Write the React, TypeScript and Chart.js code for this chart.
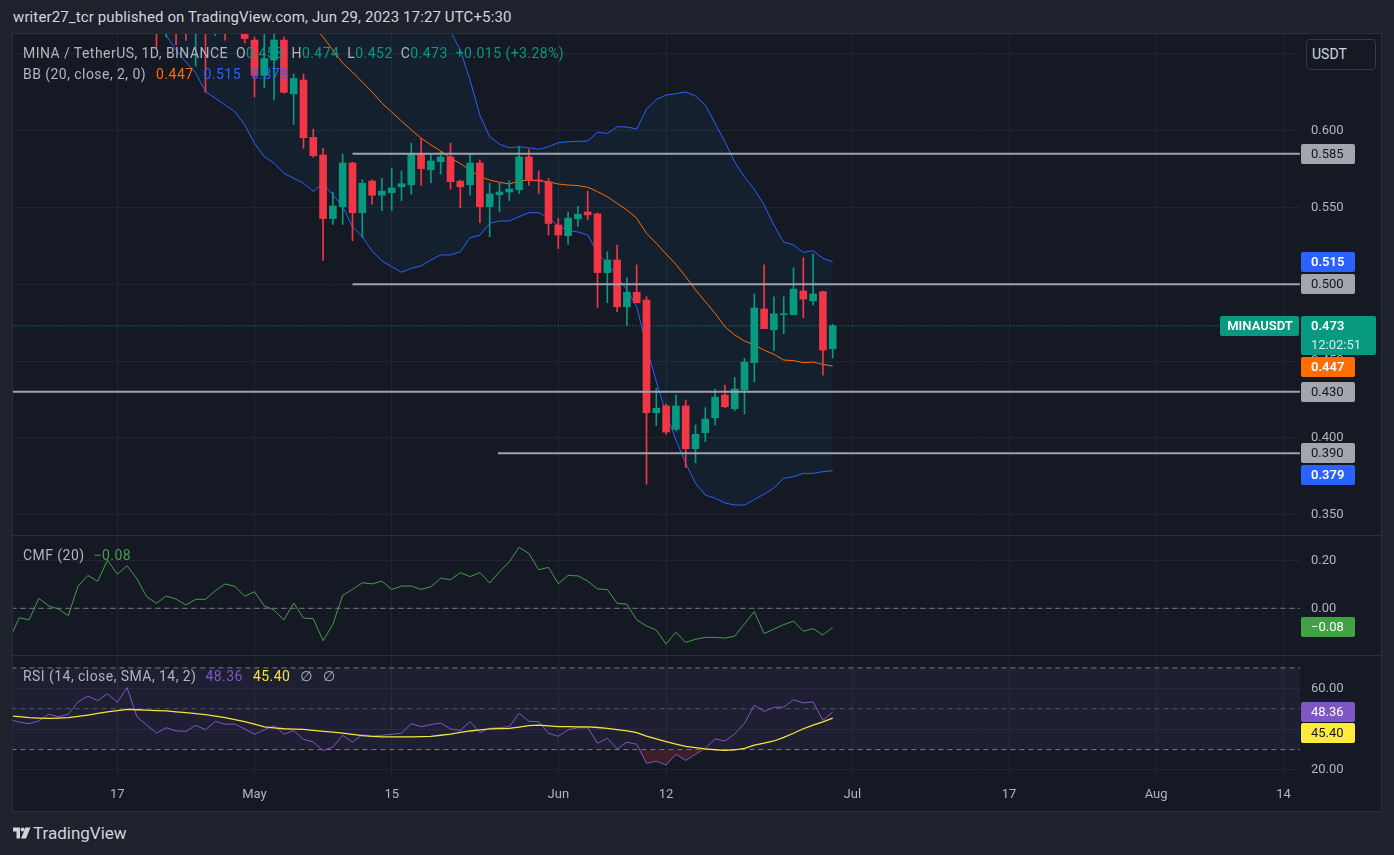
import React, { useEffect, useRef } from 'react';
import { Chart, registerables } from 'chart.js';

Chart.register(...registerables);

// ---------- DATA (day offsets are counted from Jun 1, 2023) ----------
const FIRST_CANDLE_DAY = -41; // Apr 21
const opens = [0.700,0.668,0.685,0.672,0.664,0.672,0.664,0.672,0.668,0.663,
  0.659,0.636,0.646,0.659,0.624,0.633,0.5957,0.5842,0.5428,0.5505,
  0.579,0.5466,0.5672,0.558,0.5596,0.5635,0.5648,0.5848,0.5746,0.5798,
  0.5829,0.5672,0.5648,0.579,0.5505,0.5583,0.5601,0.5616,0.5829,0.5679,
  0.5666,0.5386,0.5316,0.5427,0.5471,0.5458,0.5076,0.5158,0.4854,0.4948,
  0.4898,0.4164,0.4208,0.4056,0.4208,0.393,0.4034,0.4131,0.4279,0.419,
  0.4312,0.449,0.4839,0.4704,0.4802,0.4802,0.4956,0.4893,0.4952,0.458];
const highs = [0.712,0.690,0.692,0.680,0.682,0.680,0.674,0.680,0.678,0.672,
  0.661,0.663,0.664,0.661,0.637,0.637,0.601,0.5885,0.560,0.5848,
  0.5795,0.568,0.568,0.569,0.5755,0.5738,0.5918,0.595,0.5853,0.5863,
  0.5918,0.5679,0.5848,0.581,0.5658,0.5658,0.5673,0.5896,0.5879,0.5738,
  0.5689,0.543,0.5471,0.5508,0.5607,0.5464,0.5212,0.5256,0.5043,0.5126,
  0.4919,0.4323,0.422,0.4279,0.4247,0.4084,0.4197,0.4318,0.4344,0.4394,
  0.4518,0.4937,0.5126,0.4919,0.4919,0.5108,0.5173,0.5197,0.4956,0.474];
const lows = [0.654,0.661,0.656,0.659,0.642,0.625,0.662,0.659,0.664,0.657,
  0.622,0.628,0.620,0.6245,0.604,0.5885,0.5827,0.5156,0.539,0.539,
  0.5284,0.5306,0.552,0.548,0.548,0.5544,0.5586,0.5645,0.5661,0.5718,
  0.562,0.5499,0.5581,0.5401,0.531,0.5473,0.5544,0.559,0.5645,0.559,
  0.5321,0.5233,0.5259,0.5378,0.5419,0.485,0.488,0.4822,0.4731,0.488,
  0.3698,0.408,0.4023,0.4045,0.3806,0.3838,0.3975,0.4084,0.4197,0.4177,
  0.4156,0.4364,0.4711,0.4568,0.4678,0.4802,0.4783,0.4865,0.4409,0.452];
const closes = [0.672,0.685,0.668,0.665,0.670,0.664,0.668,0.665,0.666,0.660,
  0.636,0.647,0.659,0.625,0.634,0.5954,0.5837,0.5428,0.551,0.579,
  0.5466,0.5658,0.558,0.5607,0.5627,0.5655,0.5848,0.5753,0.5803,0.5829,
  0.5668,0.5635,0.579,0.5505,0.5588,0.5601,0.562,0.5829,0.5677,0.5673,
  0.5396,0.5321,0.543,0.5456,0.5452,0.5076,0.5158,0.4854,0.4948,0.488,
  0.4164,0.4193,0.4038,0.4208,0.393,0.4023,0.4123,0.4266,0.4203,0.4318,
  0.4494,0.4846,0.4711,0.4807,0.4807,0.4969,0.4904,0.4937,0.4572,0.473];

const bbUpper = [0.93,0.925,0.92,0.915,0.905,0.90,0.89,0.885,0.875,0.865,
  0.855,0.84,0.83,0.82,0.81,0.80,0.79,0.78,0.77,0.755,
  0.745,0.735,0.73,0.72,0.71,0.705,0.70,0.695,0.69,0.68,
  0.665,0.6525,0.633,0.610,0.5961,0.5913,0.5889,0.5896,0.5889,0.5879,
  0.5896,0.5922,0.5928,0.5931,0.5933,0.599,0.5983,0.6026,0.6024,0.6011,
  0.6141,0.6204,0.6232,0.6241,0.6252,0.6226,0.6167,0.6048,0.5928,0.5796,
  0.5699,0.562,0.5516,0.5386,0.5275,0.5256,0.5208,0.5219,0.5169,0.5147];
const bbBasis = [0.80,0.79,0.78,0.775,0.765,0.76,0.75,0.74,0.73,0.72,
  0.71,0.70,0.695,0.688,0.68,0.675,0.668,0.661,0.6525,0.644,
  0.6382,0.6317,0.6252,0.618,0.6121,0.6063,0.6005,0.5952,0.5907,0.5868,
  0.5822,0.5786,0.5744,0.5701,0.5679,0.5664,0.5653,0.5673,0.5679,0.5674,
  0.5668,0.5653,0.5646,0.5643,0.5632,0.5603,0.557,0.5527,0.5484,0.543,
  0.5332,0.5267,0.5197,0.513,0.505,0.4963,0.4887,0.4811,0.4724,0.467,
  0.4631,0.4605,0.4572,0.4544,0.4507,0.4503,0.449,0.4494,0.4478,0.4468];
const bbLower = [0.675,0.662,0.6525,0.6447,0.6376,0.6254,0.6211,0.6167,0.6124,0.6037,
  0.5918,0.5831,0.5788,0.5723,0.569,0.5658,0.5605,0.5656,0.5581,0.5505,
  0.5375,0.531,0.5217,0.5152,0.5115,0.5078,0.5104,0.5119,0.5158,0.5191,
  0.5191,0.5212,0.5303,0.5319,0.5397,0.5412,0.5412,0.544,0.5466,0.5466,
  0.5432,0.538,0.535,0.534,0.5321,0.5202,0.5137,0.505,0.4963,0.4854,
  0.4594,0.4366,0.416,0.3986,0.3835,0.3704,0.3628,0.3607,0.3576,0.3563,
  0.3563,0.3598,0.3634,0.3672,0.3737,0.3747,0.3769,0.3769,0.378,0.3786];

const FIRST_OSC_DAY = -56;
const cmfValues = [-0.13,-0.040,-0.049,0.042,0.010,-0.003,-0.031,0.094,0.139,0.114,
  0.204,0.144,0.180,0.125,0.049,0.021,0.052,0.039,0.014,0.038,
  0.038,0.074,0.103,0.093,0.051,0.070,0.010,-0.008,-0.049,0.022,
  -0.041,-0.044,-0.137,-0.068,0.055,0.080,0.108,0.103,0.115,0.080,
  0.094,0.094,0.080,0.091,0.127,0.121,0.151,0.134,0.151,0.107,
  0.155,0.196,0.258,0.232,0.163,0.173,0.104,0.139,0.137,0.115,
  0.082,0.079,0.021,0.017,-0.049,-0.075,-0.092,-0.151,-0.101,-0.144,
  -0.131,-0.123,-0.123,-0.126,-0.118,-0.066,-0.014,-0.107,-0.088,-0.069,
  -0.054,-0.097,-0.086,-0.113,-0.080];
const rsiValues = [44.8,43.4,42.7,44.0,47.3,46.0,47.3,53.3,56.2,53.9,
  57.4,53.1,60.3,46.1,42.0,38.1,40.7,39.1,38.9,41.9,
  39.7,43.8,42.4,42.5,40.1,37.5,39.6,41.7,37.6,39.3,
  35.0,33.7,29.5,31.3,37.0,33.6,37.3,36.5,37.0,37.5,
  38.0,42.7,41.2,42.2,43.0,40.1,39.4,43.7,38.3,40.4,
  40.7,41.2,47.8,43.8,43.7,38.0,36.5,39.7,40.7,40.7,
  33.1,35.5,30.4,33.6,32.6,23.3,24.3,22.4,27.7,24.7,
  27.7,30.6,35.2,34.2,37.6,42.9,51.7,48.7,50.7,50.8,
  54.4,52.8,53.4,44.3,48.36];
const rsiMaValues = [46.5,46.1,45.6,45.4,45.3,45.4,45.6,46.2,46.9,47.7,
  48.5,49.1,49.7,49.5,49.3,49.1,48.9,48.5,48.1,47.6,
  47.1,46.4,45.6,44.7,43.7,42.4,41.1,40.6,40.2,40.0,
  39.9,39.4,38.9,38.5,38.0,37.4,36.8,36.5,36.2,36.2,
  36.2,36.2,36.3,36.5,37.0,37.6,38.4,39.1,39.6,40.1,
  40.3,40.4,41.0,41.7,42.0,41.6,41.2,41.2,41.1,41.1,
  40.8,40.4,39.8,39.1,38.3,36.6,35.2,33.9,32.7,31.6,
  30.9,30.3,29.9,29.6,29.9,30.6,32.2,33.2,34.2,36.0,
  38.0,40.2,42.0,43.6,45.4];

const levelValues = [0.585, 0.5, 0.43, 0.39];
const levelStartDays = [-21, -21, -57, -6.15];
const rsiBandValues = [70, 50, 30];

const timeTickDays = [-45, -31, -17, 0, 11, 30, 46, 61, 74];
const timeTickLabels = ['17', 'May', '15', 'Jun', '12', 'Jul', '17', 'Aug', '14'];
const priceTicks = [0.35, 0.4, 0.45, 0.5, 0.55, 0.6, 0.65];
const cmfTicks = [0, 0.2];
const rsiTicks = [20, 40, 60];

// ---------- VIEW ----------
const X_MIN = -55.64;
const X_MAX = 75.68;
const P_MIN = 0.33678, P_MAX = 0.66296;
const CMF_MIN = -0.1975, CMF_MAX = 0.3057;
const RSI_MIN = 16.08, RSI_MAX = 75.81;

const FONT = 'Roboto, "Noto Sans", "DejaVu Sans", sans-serif';
const TEXT = '#B2B5BE';
const GRID = '#212530';
const BG = '#151924';
const OUTER = '#1E222D';
const UP = '#089981';
const DOWN = '#F23645';
const ORANGE = '#FF6D00';
const BLUE = '#2962FF';
const LEVEL = '#A0A3AB';
const CMF_COL = '#43A047';
const RSI_COL = '#7E57C2';
const MA_COL = '#F5E33B';

type AxisBox = { value: number; text: string; bg: string; fg: string; bold?: boolean; sub?: string; tag?: string };

function axisBoxPlugin(id: string, boxes: AxisBox[], gap: number) {
  return {
    id,
    afterDraw(chart: any) {
      const ctx = chart.ctx as CanvasRenderingContext2D;
      const area = chart.chartArea;
      const ys = chart.scales.y;
      const items = boxes.map((b) => ({ ...b, py: ys.getPixelForValue(b.value) })).sort((a, b) => a.py - b.py);
      let prevBottom = -1e9;
      ctx.save();
      for (const b of items) {
        const h = b.sub ? 39 : 20;
        let top = Math.round(b.py - 10);
        if (top < prevBottom + gap) top = prevBottom + gap;
        const left = area.right + 1;
        const w = b.sub ? 75 : 54;
        ctx.fillStyle = b.bg;
        ctx.beginPath();
        (ctx as any).roundRect(left, top, w, h, 2);
        ctx.fill();
        ctx.fillStyle = b.fg;
        ctx.textBaseline = 'middle';
        ctx.textAlign = 'left';
        ctx.font = `${b.bold ? '600 ' : ''}13px ${FONT}`;
        ctx.fillText(b.text, left + 10, top + 10.5);
        if (b.sub) {
          ctx.font = `13px ${FONT}`;
          ctx.fillStyle = 'rgba(255,255,255,0.82)';
          ctx.fillText(b.sub, left + 10, top + 29.5);
        }
        if (b.tag) {
          const tw = 80;
          ctx.fillStyle = b.bg;
          ctx.beginPath();
          (ctx as any).roundRect(area.right - tw, top, tw - 1, 20, 2);
          ctx.fill();
          ctx.fillStyle = '#FFFFFF';
          ctx.textAlign = 'center';
          ctx.font = `600 13px ${FONT}`;
          ctx.fillText(b.tag, area.right - tw / 2, top + 10.5);
        }
        prevBottom = top + h;
      }
      ctx.restore();
    },
  };
}

function timeScale(showLabels: boolean) {
  return {
    type: 'linear',
    min: X_MIN,
    max: X_MAX,
    offset: false,
    afterBuildTicks: (s: any) => {
      s.ticks = timeTickDays.map((v) => ({ value: v }));
    },
    ticks: {
      display: showLabels,
      autoSkip: false,
      maxRotation: 0,
      color: TEXT,
      font: { family: FONT, size: 13 },
      padding: 9,
      callback: (_v: any, i: number) => timeTickLabels[i],
    },
    grid: { color: GRID, drawTicks: false, offset: false },
    border: { display: false },
    afterFit: (s: any) => {
      s.height = showLabels ? 32 : 0;
      s.paddingLeft = 0;
      s.paddingRight = 0;
    },
  };
}

function valueScale(min: number, max: number, ticks: number[], digits: number) {
  return {
    position: 'right',
    min,
    max,
    afterBuildTicks: (s: any) => {
      s.ticks = ticks.map((v) => ({ value: v }));
    },
    ticks: {
      color: TEXT,
      font: { family: FONT, size: 13 },
      padding: 11,
      callback: (v: any) => Number(v).toFixed(digits).replace('-', '\u2212'),
    },
    grid: { color: GRID, drawTicks: false },
    border: { display: false },
    afterFit: (s: any) => {
      s.width = 81;
      s.paddingTop = 0;
      s.paddingBottom = 0;
    },
  };
}

const baseOptions = {
  responsive: false,
  animation: false as const,
  devicePixelRatio: 1,
  events: [] as any[],
  layout: { padding: 0 },
  plugins: { legend: { display: false }, tooltip: { enabled: false } },
};

function hLine(y: number, x0: number, x1: number, color: string, width: number, dash: number[], order: number, extra: any = {}) {
  return {
    type: 'line',
    data: [{ x: x0, y }, { x: x1, y }],
    borderColor: color,
    borderWidth: width,
    borderDash: dash,
    pointRadius: 0,
    order,
    ...extra,
  };
}

export default function App() {
  const mainRef = useRef<HTMLCanvasElement>(null);
  const cmfRef = useRef<HTMLCanvasElement>(null);
  const rsiRef = useRef<HTMLCanvasElement>(null);

  useEffect(() => {
    const days = opens.map((_, i) => FIRST_CANDLE_DAY + i);
    const colors = opens.map((o, i) => (closes[i] >= o ? UP : DOWN));
    const last = opens.length - 1;
    const lastClose = closes[last];

    const levelSets = levelValues.map((lv, k) => hLine(lv, levelStartDays[k], X_MAX + 2, LEVEL, 2, [], 0));
    const mainDatasets: any[] = [
      ...levelSets,
      hLine(lastClose, X_MIN - 2, X_MAX + 2, UP, 1, [1, 2], 1),
      {
        type: 'bar',
        data: days.map((d, i) => ({ x: d, y: [opens[i], closes[i]] })),
        backgroundColor: colors,
        barThickness: 7,
        grouped: false,
        minBarLength: 1,
        order: 2,
      },
      {
        type: 'bar',
        data: days.map((d, i) => ({ x: d, y: [lows[i], highs[i]] })),
        backgroundColor: colors,
        barThickness: 1,
        grouped: false,
        order: 3,
      },
      {
        type: 'line',
        data: days.map((d, i) => ({ x: d, y: bbBasis[i] })),
        borderColor: ORANGE,
        borderWidth: 1,
        pointRadius: 0,
        order: 4,
      },
    ];
    const lowerIndex = mainDatasets.length;
    mainDatasets.push({
      type: 'line',
      data: days.map((d, i) => ({ x: d, y: bbLower[i] })),
      borderColor: BLUE,
      borderWidth: 1,
      pointRadius: 0,
      order: 5,
    });
    mainDatasets.push({
      type: 'line',
      data: days.map((d, i) => ({ x: d, y: bbUpper[i] })),
      borderColor: BLUE,
      borderWidth: 1,
      pointRadius: 0,
      fill: { target: lowerIndex, above: 'rgba(33,150,243,0.06)', below: 'rgba(33,150,243,0.06)' },
      order: 6,
    });

    const gray = '#A3A6AF';
    const dark = '#131722';
    const mainBoxes: AxisBox[] = [
      { value: levelValues[0], text: levelValues[0].toFixed(3), bg: gray, fg: dark },
      { value: bbUpper[last], text: bbUpper[last].toFixed(3), bg: BLUE, fg: '#FFFFFF', bold: true },
      { value: levelValues[1], text: levelValues[1].toFixed(3), bg: gray, fg: dark },
      { value: lastClose, text: lastClose.toFixed(3), bg: UP, fg: '#FFFFFF', bold: true, sub: '12:02:51', tag: 'MINAUSDT' },
      { value: bbBasis[last], text: bbBasis[last].toFixed(3), bg: ORANGE, fg: '#FFFFFF', bold: true },
      { value: levelValues[2], text: levelValues[2].toFixed(3), bg: gray, fg: dark },
      { value: levelValues[3], text: levelValues[3].toFixed(3), bg: gray, fg: dark },
      { value: bbLower[last], text: bbLower[last].toFixed(3), bg: BLUE, fg: '#FFFFFF', bold: true },
    ];

    const main = new Chart(mainRef.current as HTMLCanvasElement, {
      type: 'line',
      data: { datasets: mainDatasets },
      options: {
        ...baseOptions,
        scales: {
          x: timeScale(false) as any,
          y: valueScale(P_MIN, P_MAX, priceTicks, 3) as any,
        },
      } as any,
      plugins: [axisBoxPlugin('mainBoxes', mainBoxes, 2)],
    });

    const oscDays = cmfValues.map((_, i) => FIRST_OSC_DAY + i);
    const cmfLast = cmfValues[cmfValues.length - 1];
    const cmf = new Chart(cmfRef.current as HTMLCanvasElement, {
      type: 'line',
      data: {
        datasets: [
          hLine(0, X_MIN - 2, X_MAX + 2, '#787B86', 1, [5, 4], 2),
          {
            type: 'line',
            data: oscDays.map((d, i) => ({ x: d, y: cmfValues[i] })),
            borderColor: CMF_COL,
            borderWidth: 1,
            pointRadius: 0,
            order: 1,
          },
        ] as any,
      },
      options: {
        ...baseOptions,
        scales: {
          x: timeScale(false) as any,
          y: valueScale(CMF_MIN, CMF_MAX, cmfTicks, 2) as any,
        },
      } as any,
      plugins: [
        axisBoxPlugin('cmfBoxes', [
          { value: cmfLast, text: cmfLast.toFixed(2).replace('-', '\u2212'), bg: CMF_COL, fg: '#FFFFFF' },
        ], 2),
      ],
    });

    const rsiLast = rsiValues[rsiValues.length - 1];
    const maLast = rsiMaValues[rsiMaValues.length - 1];
    const rsiDatasets: any[] = [
      hLine(rsiBandValues[0], X_MIN - 2, X_MAX, '#787B86', 1, [5, 4], 5, {
        fill: { target: 2, above: 'rgba(126,87,194,0.1)', below: 'rgba(126,87,194,0.1)' },
      }),
      hLine(rsiBandValues[1], X_MIN - 2, X_MAX, 'rgba(120,123,134,0.6)', 1, [5, 4], 4),
      hLine(rsiBandValues[2], X_MIN - 2, X_MAX, '#787B86', 1, [5, 4], 3),
      {
        type: 'line',
        data: oscDays.map((d, i) => ({ x: d, y: rsiValues[i] })),
        borderColor: RSI_COL,
        borderWidth: 1,
        pointRadius: 0,
        fill: { target: { value: rsiBandValues[2] }, above: 'rgba(0,0,0,0)', below: 'rgba(242,54,69,0.18)' },
        order: 2,
      },
      {
        type: 'line',
        data: oscDays.map((d, i) => ({ x: d, y: rsiMaValues[i] })),
        borderColor: MA_COL,
        borderWidth: 1.3,
        pointRadius: 0,
        order: 1,
      },
    ];
    const rsi = new Chart(rsiRef.current as HTMLCanvasElement, {
      type: 'line',
      data: { datasets: rsiDatasets },
      options: {
        ...baseOptions,
        scales: {
          x: timeScale(true) as any,
          y: valueScale(RSI_MIN, RSI_MAX, rsiTicks, 2) as any,
        },
      } as any,
      plugins: [
        axisBoxPlugin('rsiBoxes', [
          { value: rsiLast, text: rsiLast.toFixed(2), bg: RSI_COL, fg: '#FFFFFF' },
          { value: maLast, text: maLast.toFixed(2), bg: '#FFEB3B', fg: '#131722' },
        ], 1),
      ],
    });

    return () => {
      main.destroy();
      cmf.destroy();
      rsi.destroy();
    };
  }, []);

  const abs = (left: number, top: number, extra: React.CSSProperties = {}): React.CSSProperties => ({
    position: 'absolute',
    left,
    top,
    ...extra,
  });
  const legendFont: React.CSSProperties = {
    fontFamily: FONT,
    fontSize: 14,
    lineHeight: '16px',
    letterSpacing: '0.45px',
    color: TEXT,
    whiteSpace: 'nowrap',
  };
  const g = (s: string) => <span style={{ color: UP }}>{s}</span>;

  return (
    <div style={{ position: 'fixed', left: 0, top: 0, width: 1394, height: 855, background: OUTER, overflow: 'hidden' }}>
      <div style={abs(13, 8, { fontFamily: FONT, fontSize: 15, lineHeight: '18px', letterSpacing: '0.12px', color: '#D1D4DC', whiteSpace: 'nowrap' })}>
        writer27_tcr published on TradingView.com, Jun 29, 2023 17:27 UTC+5:30
      </div>
      <div style={abs(12, 33, { width: 1370, height: 779, boxSizing: 'border-box', border: '1px solid #2A2E39', background: BG })} />
      <canvas ref={mainRef} width={1368} height={501} style={abs(13, 34)} />
      <div style={abs(13, 535, { width: 1368, height: 1, background: '#2A2E39' })} />
      <canvas ref={cmfRef} width={1368} height={119} style={abs(13, 536)} />
      <div style={abs(13, 655, { width: 1368, height: 1, background: '#2A2E39' })} />
      <canvas ref={rsiRef} width={1368} height={154} style={abs(13, 656)} />

      <div style={abs(1306, 39, { width: 70, height: 31, boxSizing: 'border-box', border: '1px solid #363A45', borderRadius: 4, background: BG, fontFamily: FONT, fontSize: 14, lineHeight: '29px', color: '#D1D4DC', paddingLeft: 5 })}>
        USDT
      </div>

      <div style={abs(23, 45, legendFont)}>
        MINA / TetherUS, 1D, BINANCE
        <span style={{ marginLeft: 8 }}>O</span>{g('0.458')}
        <span style={{ marginLeft: 8 }}>H</span>{g('0.474')}
        <span style={{ marginLeft: 8 }}>L</span>{g('0.452')}
        <span style={{ marginLeft: 8 }}>C</span>{g('0.473')}
        <span style={{ marginLeft: 8, color: UP }}>+0.015 (+3.28%)</span>
      </div>
      <div style={abs(23, 66, legendFont)}>
        BB (20, close, 2, 0)
        <span style={{ marginLeft: 10, color: ORANGE }}>0.447</span>
        <span style={{ marginLeft: 10, color: BLUE }}>0.515</span>
        <span style={{ marginLeft: 10, color: BLUE }}>0.379</span>
      </div>
      <div style={abs(23, 547, legendFont)}>
        CMF (20)
        <span style={{ marginLeft: 9, color: CMF_COL }}>{'\u2212'}0.08</span>
      </div>
      <div style={abs(23, 668, legendFont)}>
        RSI (14, close, SMA, 14, 2)
        <span style={{ marginLeft: 9, color: RSI_COL }}>48.36</span>
        <span style={{ marginLeft: 10, color: MA_COL }}>45.40</span>
        <span style={{ marginLeft: 10 }}>{'\u2205'}</span>
        <span style={{ marginLeft: 10 }}>{'\u2205'}</span>
      </div>

      <svg style={abs(13, 827)} width={18} height={12} viewBox="0 0 18 11">
        <path d="M0 0 H7 V11 H3.5 V4 H0 Z" fill="#D1D4DC" />
        <circle cx="9.6" cy="2" r="2" fill="#D1D4DC" />
        <path d="M12.5 0 H17.5 L13 11 H8 Z" fill="#D1D4DC" />
      </svg>
      <div style={abs(33, 823, { fontFamily: FONT, fontSize: 17, lineHeight: '20px', color: '#D1D4DC', whiteSpace: 'nowrap' })}>
        TradingView
      </div>
    </div>
  );
}
